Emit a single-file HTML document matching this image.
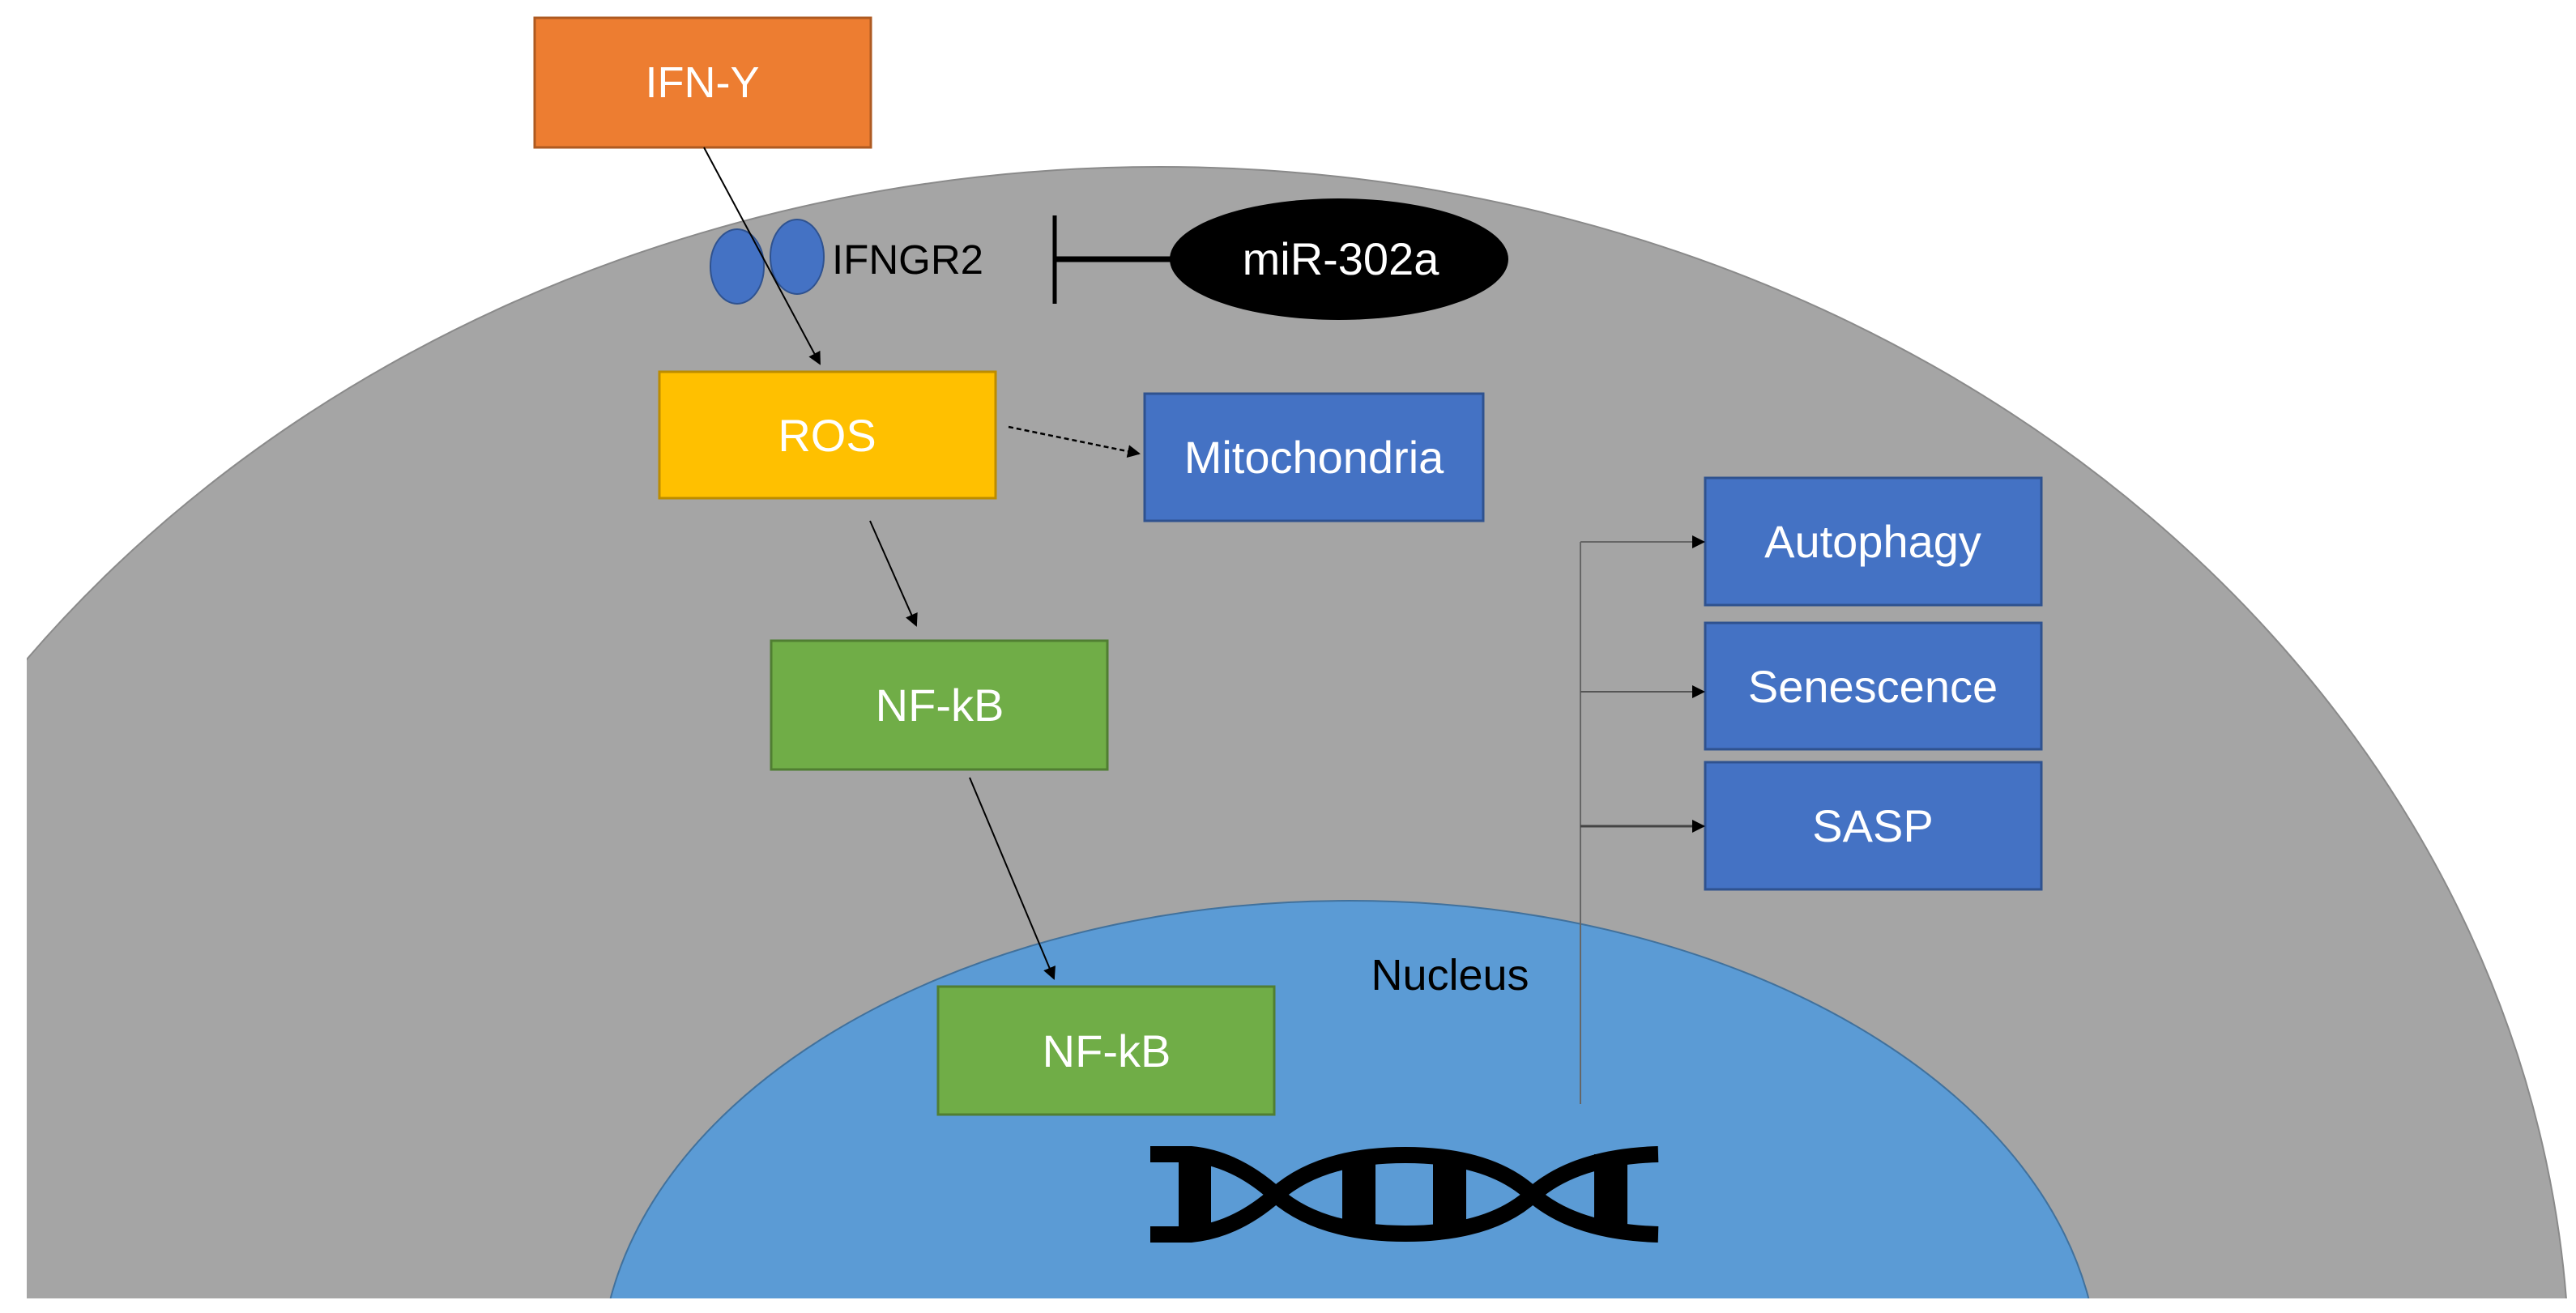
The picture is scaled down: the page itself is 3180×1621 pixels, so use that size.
<!DOCTYPE html>
<html><head><meta charset="utf-8"><style>
html,body{margin:0;padding:0;background:#fff;overflow:hidden;width:3180px;height:1621px;}
svg{display:block;}
text{font-family:"Liberation Sans",sans-serif;}
</style></head><body>
<svg width="3180" height="1621" viewBox="0 0 3180 1621" xmlns="http://www.w3.org/2000/svg">
<defs>
<clipPath id="c"><rect x="33" y="0" width="3147" height="1603"/></clipPath>
<clipPath id="c2"><rect x="0" y="0" width="3180" height="1603"/></clipPath>
<marker id="ah2" markerWidth="16" markerHeight="16" refX="14" refY="8" orient="auto" markerUnits="userSpaceOnUse"><path d="M0,0 L16,8 L0,16 z" fill="#000"/></marker>
</defs>
<g clip-path="url(#c)">
<ellipse cx="1432" cy="1706" rx="1740" ry="1500" fill="#a5a5a5" stroke="#8a8a8a" stroke-width="2"/>
</g>
<g clip-path="url(#c2)">
<ellipse cx="1666" cy="1700" rx="925" ry="588" fill="#5b9bd5" stroke="#41719c" stroke-width="2"/>
</g>
<rect x="660" y="22" width="415" height="160" fill="#ed7d31" stroke="#ae5a21" stroke-width="3"/>
<text x="867" y="120" font-size="54" fill="#fff" text-anchor="middle">IFN-Y</text>
<rect x="814" y="459" width="415" height="156" fill="#ffc000" stroke="#bc8c00" stroke-width="3"/>
<text x="1021" y="557" font-size="56" fill="#fff" text-anchor="middle">ROS</text>
<rect x="1413" y="486" width="418" height="157" fill="#4472c4" stroke="#2f528f" stroke-width="3"/>
<text x="1622" y="584" font-size="56" fill="#fff" text-anchor="middle">Mitochondria</text>
<rect x="952" y="791" width="415" height="159" fill="#70ad47" stroke="#507e32" stroke-width="3"/>
<text x="1160" y="890" font-size="56" fill="#fff" text-anchor="middle">NF-kB</text>
<rect x="1158" y="1218" width="415" height="158" fill="#70ad47" stroke="#507e32" stroke-width="3"/>
<text x="1366" y="1317" font-size="56" fill="#fff" text-anchor="middle">NF-kB</text>
<rect x="2105" y="590" width="415" height="157" fill="#4472c4" stroke="#2f528f" stroke-width="3"/>
<text x="2312" y="688" font-size="56" fill="#fff" text-anchor="middle">Autophagy</text>
<rect x="2105" y="769" width="415" height="156" fill="#4472c4" stroke="#2f528f" stroke-width="3"/>
<text x="2312" y="867" font-size="56" fill="#fff" text-anchor="middle">Senescence</text>
<rect x="2105" y="941" width="415" height="157" fill="#4472c4" stroke="#2f528f" stroke-width="3"/>
<text x="2312" y="1039" font-size="56" fill="#fff" text-anchor="middle">SASP</text>
<text x="1790" y="1222" font-size="54" fill="#000" text-anchor="middle">Nucleus</text>
<ellipse cx="910" cy="329" rx="33" ry="46" fill="#4472c4" stroke="#2f528f" stroke-width="2"/>
<ellipse cx="984" cy="317" rx="33" ry="46" fill="#4472c4" stroke="#2f528f" stroke-width="2"/>
<text x="1027" y="338" font-size="51" fill="#000">IFNGR2</text>
<line x1="1302" y1="266" x2="1302" y2="375" stroke="#000" stroke-width="5"/>
<line x1="1302" y1="320" x2="1460" y2="320" stroke="#000" stroke-width="7"/>
<ellipse cx="1653" cy="320" rx="209" ry="75" fill="#000"/>
<text x="1655" y="339" font-size="56" fill="#fff" text-anchor="middle">miR-302a</text>
<line x1="869" y1="182" x2="1012" y2="449" stroke="#000" stroke-width="2" marker-end="url(#ah2)"/>
<line x1="1245" y1="527" x2="1406" y2="560" stroke="#000" stroke-width="2.5" stroke-dasharray="6,4" marker-end="url(#ah2)"/>
<line x1="1074" y1="643" x2="1131" y2="772" stroke="#000" stroke-width="2" marker-end="url(#ah2)"/>
<line x1="1197" y1="960" x2="1301" y2="1208" stroke="#000" stroke-width="2" marker-end="url(#ah2)"/>
<line x1="1951" y1="669" x2="1951" y2="1363" stroke="#666" stroke-width="2"/>
<line x1="1951" y1="669" x2="2103" y2="669" stroke="#666" stroke-width="2" marker-end="url(#ah2)"/>
<line x1="1951" y1="854" x2="2103" y2="854" stroke="#555" stroke-width="2" marker-end="url(#ah2)"/>
<line x1="1951" y1="1020" x2="2103" y2="1020" stroke="#444" stroke-width="3" marker-end="url(#ah2)"/>
<g fill="none" stroke="#000" stroke-width="20">
<path d="M1420,1425 L1470,1425 Q1525,1430 1575,1475 Q1630,1523 1735,1523 Q1840,1523 1892,1475 Q1945,1428 2047,1425"/>
<path d="M1420,1524 L1470,1524 Q1525,1519 1575,1475 Q1630,1426 1735,1426 Q1840,1426 1892,1475 Q1945,1521 2047,1524"/>
</g>
<rect x="1455" y="1425" width="40" height="98" fill="#000"/>
<rect x="1657" y="1426" width="41" height="97" fill="#000"/>
<rect x="1769" y="1426" width="41" height="97" fill="#000"/>
<rect x="1968" y="1425" width="41" height="98" fill="#000"/>
</svg>
</body></html>
